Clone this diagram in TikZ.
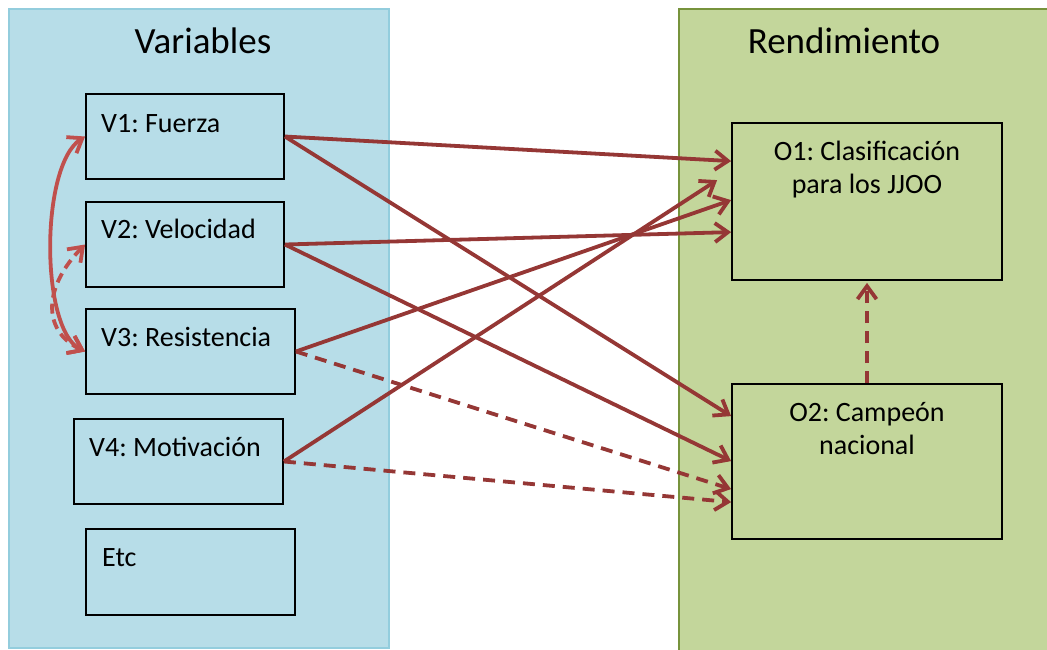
\documentclass[tikz,border=0pt]{standalone}
\usepackage{fontspec}
\setmainfont{Carlito}
\frenchspacing
\usetikzlibrary{arrows.meta}
\definecolor{panelblue}{HTML}{B7DDE8}
\definecolor{panelblueedge}{HTML}{93CDDD}
\definecolor{panelgreen}{HTML}{C3D69B}
\definecolor{panelgreenedge}{HTML}{77933C}
\definecolor{linkred}{HTML}{953735}
\definecolor{pairred}{HTML}{C0504D}
\begin{document}
\begin{tikzpicture}[x=1pt,y=-1pt,
  panel/.style={rectangle, anchor=north west, inner sep=0pt, line width=1.5pt},
  paneltitle/.style={anchor=base, inner sep=0pt, font=\fontsize{37}{44}\selectfont},
  itembox/.style={rectangle, draw=black, line width=1.8pt, inner sep=0pt},
  itemtext/.style={anchor=base west, inner sep=0pt, font=\fontsize{28}{33}\selectfont},
  outtext/.style={anchor=base, inner sep=0pt, font=\fontsize{28}{33}\selectfont},
  barb/.tip={Straight Barb[length=13pt,width=19pt,line width=3.8pt]},
  link/.style={draw=linkred, line width=3.8pt, -barb},
  weak/.style={link, dash pattern=on 12pt off 8pt},
  pair/.style={draw=pairred, line width=3.8pt, barb-barb},
  weakpair/.style={pair, dash pattern=on 10pt off 6pt},
]
\useasboundingbox (0,0) rectangle (1047,649);

% background panels
\node[panel, draw=panelblueedge, fill=panelblue, minimum width=380pt, minimum height=639pt] (varpanel) at (8,8) {};
\node[panel, draw=panelgreenedge, fill=panelgreen, minimum width=390pt, minimum height=650pt] (outpanel) at (678,8) {};
\node[paneltitle] (vartitle) at (203,53) {Variables};
\node[paneltitle] (outtitle) at (844,53) {Rendimiento};

% variable boxes
\node[itembox, minimum width=198pt, minimum height=85pt] (v1) at (185,136.5) {};
\node[itembox, minimum width=198pt, minimum height=85pt] (v2) at (185,244.5) {};
\node[itembox, minimum width=209pt, minimum height=85pt] (v3) at (190.5,351.5) {};
\node[itembox, minimum width=209pt, minimum height=85pt] (v4) at (178.5,461.5) {};
\node[itembox, minimum width=209pt, minimum height=86pt] (etc) at (190.5,572) {};
\node[itemtext] (v1t) at (101,132) {V1: Fuerza};
\node[itemtext] (v2t) at (101,238) {V2: Velocidad};
\node[itemtext] (v3t) at (101,346) {V3: Resistencia};
\node[itemtext] (v4t) at (89,456) {V4: Motivación};
\node[itemtext] (etct) at (102,566) {Etc};

% outcome boxes
\node[itembox, minimum width=270pt, minimum height=157pt] (o1) at (867,201.5) {};
\node[itembox, minimum width=270pt, minimum height=155pt] (o2) at (867,461.5) {};
\node[outtext] (o1a) at (867,160) {O1: Clasificación};
\node[outtext] (o1b) at (867,193) {para los JJOO};
\node[outtext] (o2a) at (867,421) {O2: Campeón};
\node[outtext] (o2b) at (867,454) {nacional};

% relations among the variables
\draw[pair] (v1.west) .. controls (40,165) and (40,330) .. (v3.west);
\draw[weakpair] (v2.west) .. controls (45,285) and (40,330) .. (v3.west);

% effects on the outcomes
\draw[link] (v1.east) -- ([yshift=-39pt]o1.north west);
\draw[link] (v1.east) -- ([yshift=-33pt]o2.north west);
\draw[link] (v2.east) -- ([yshift=-110pt]o1.north west);
\draw[link] (v2.east) -- ([yshift=-78pt]o2.north west);
\draw[link] (v3.east) -- ([yshift=-78pt]o1.north west);
\draw[weak] (v3.east) -- ([yshift=-106pt]o2.north west);
\draw[link] (v4.east) -- ([xshift=-14pt,yshift=-58pt]o1.north west);
\draw[weak] (v4.east) -- ([yshift=-119pt]o2.north west);
\draw[weak] (o2.north) -- ([yshift=-2pt]o1.south);
\end{tikzpicture}
\end{document}
